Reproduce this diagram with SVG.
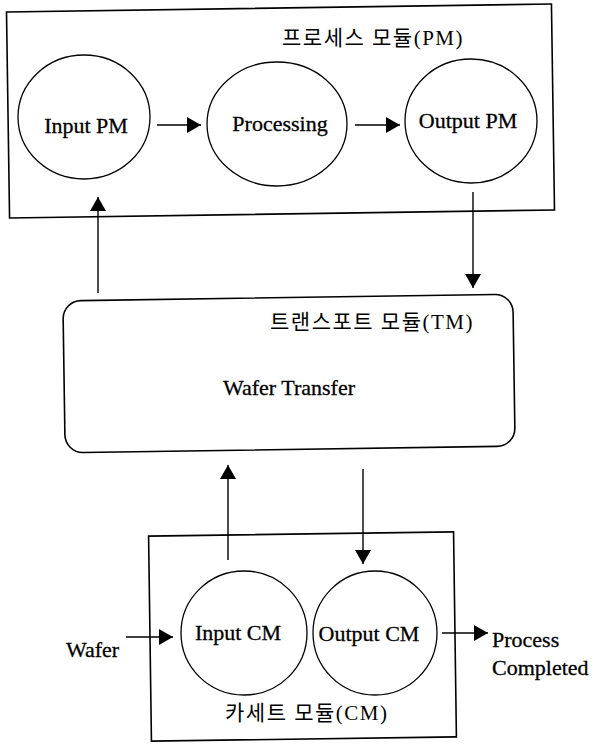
<svg xmlns="http://www.w3.org/2000/svg" width="593" height="744" viewBox="0 0 593 744">
<style>
.box{fill:none;stroke:#000;stroke-width:1.6}
.node{fill:#fff;stroke:#000;stroke-width:1.3}
.t{font-family:"Liberation Serif","Noto Sans CJK KR",serif;font-size:22px;fill:#000;stroke:#000;stroke-width:0.3}
.k{font-family:"Liberation Serif","Noto Sans CJK KR",serif;font-size:21px;fill:#000;letter-spacing:1.5px}
.c{text-anchor:middle}
.e{stroke:#000;stroke-width:1.4;fill:none}
</style>
<defs>
<marker id="ah" markerWidth="14" markerHeight="16" refX="14" refY="8" orient="auto" markerUnits="userSpaceOnUse">
<path d="M0,0 L14,8 L0,16 Z" fill="#000"/>
</marker>
</defs>
<g id="pm-module">
<rect class="box" x="8" y="8" width="545" height="206" transform="rotate(-0.85 280.5 111)"/>
<text class="k" x="282" y="45">프로세스 모듈(PM)</text>
</g>
<g id="input-pm">
<ellipse class="node" cx="84" cy="117" rx="66" ry="62"/>
<text class="t c" x="86" y="133">Input PM</text>
</g>
<g id="processing">
<ellipse class="node" cx="277" cy="124" rx="70" ry="62"/>
<text class="t c" x="280" y="131">Processing</text>
</g>
<g id="output-pm">
<ellipse class="node" cx="471" cy="121" rx="66" ry="62"/>
<text class="t c" x="468" y="128">Output PM</text>
</g>
<g id="tm-module">
<rect class="box" x="64" y="297.5" width="450" height="152" rx="18" ry="18" transform="rotate(-0.85 289 373.5)"/>
<text class="k" x="270" y="329">트랜스포트 모듈(TM)</text>
<text class="t c" x="289" y="395">Wafer Transfer</text>
</g>
<g id="cm-module">
<rect class="box" x="150" y="534" width="305" height="205" transform="rotate(-0.8 302.5 636.5)"/>
<text class="k" x="225" y="720">카세트 모듈(CM)</text>
</g>
<g id="input-cm">
<ellipse class="node" cx="244" cy="633" rx="63" ry="62"/>
<text class="t c" x="238" y="640">Input CM</text>
</g>
<g id="output-cm">
<ellipse class="node" cx="375" cy="633" rx="62" ry="62"/>
<text class="t c" x="369" y="641">Output CM</text>
</g>
<g id="wafer-label">
<text class="t" x="66" y="657">Wafer</text>
</g>
<g id="process-completed">
<text class="t" x="492" y="647">Process</text>
<text class="t" x="492" y="675">Completed</text>
</g>
<g id="connectors">
<line class="e" x1="157" y1="125" x2="201" y2="125" marker-end="url(#ah)"/>
<line class="e" x1="355" y1="125" x2="400" y2="125" marker-end="url(#ah)"/>
<line class="e" x1="98" y1="293" x2="98" y2="197" marker-end="url(#ah)"/>
<line class="e" x1="473" y1="192" x2="473" y2="288" marker-end="url(#ah)"/>
<line class="e" x1="228" y1="560" x2="228" y2="465" marker-end="url(#ah)"/>
<line class="e" x1="363" y1="469" x2="363" y2="564" marker-end="url(#ah)"/>
<line class="e" x1="126" y1="637" x2="173" y2="637" marker-end="url(#ah)"/>
<line class="e" x1="442" y1="633" x2="488" y2="633" marker-end="url(#ah)"/>
</g>
</svg>
